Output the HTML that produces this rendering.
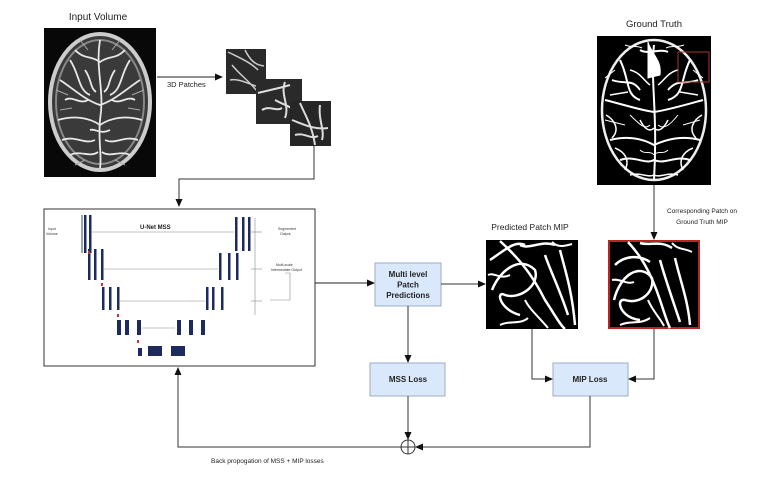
<!DOCTYPE html>
<html><head><meta charset="utf-8"><style>
html,body{margin:0;padding:0;background:#fff;}
svg{display:block;font-family:"Liberation Sans",Arial,sans-serif;}
</style></head><body>
<svg width="780" height="491" viewBox="0 0 780 491" xmlns="http://www.w3.org/2000/svg">
<defs>
<marker id="a" markerWidth="8" markerHeight="8" refX="7" refY="4" orient="auto" markerUnits="userSpaceOnUse"><path d="M0,0.5 L8,4 L0,7.5 Z" fill="#111"/></marker>
</defs>
<!-- Input Volume -->
<text x="98" y="20" font-size="10" text-anchor="middle" fill="#222">Input Volume</text>
<rect x="44" y="28" width="112" height="149" fill="#080808"/>
<ellipse cx="100" cy="102" rx="50" ry="68" fill="#3a3a3a" stroke="#ccc" stroke-width="4"/>
<ellipse cx="100" cy="102" rx="44" ry="62" fill="none" stroke="#888" stroke-width="2"/>
<g stroke="#e8e8e8" stroke-width="1.8" fill="none">
<path d="M100,40 C95,70 105,90 100,120 C98,140 102,155 100,168"/>
<path d="M60,80 C75,90 85,100 100,105 C115,100 125,90 140,80"/>
<path d="M58,120 C75,115 90,118 100,125 C110,118 125,115 142,120"/>
<path d="M70,60 C80,75 78,90 90,95"/><path d="M130,60 C120,75 122,90 110,95"/>
<path d="M62,140 C75,135 85,145 95,140"/><path d="M138,140 C125,135 115,145 105,140"/>
<path d="M75,50 C85,60 90,55 100,62 C110,55 115,60 125,50"/>
<path d="M65,100 C72,95 80,105 88,100 M135,100 C128,95 120,105 112,100 M70,155 C80,150 90,158 98,152 M130,155 C120,150 110,158 102,152"/>
<path d="M85,70 C92,80 90,88 96,92 M115,70 C108,80 110,88 104,92 M90,130 C95,128 100,135 110,130"/>
</g>
<g stroke="#aaa" stroke-width="1" fill="none">
<path d="M56,90 L68,95 M144,90 L132,95 M60,110 L72,108 M140,110 L128,108 M80,40 L88,50 M120,40 L112,50 M75,165 L85,160 M125,165 L115,160"/>
</g>
<!-- 3D patches -->
<line x1="157" y1="77" x2="222" y2="77" stroke="#222" stroke-width="1" marker-end="url(#a)"/>
<text x="167" y="87" font-size="7.5" fill="#222">3D Patches</text>
<rect x="226" y="49" width="40" height="45" fill="#2a2a2a"/>
<path d="M228,52 C240,58 250,62 258,70 M232,65 C240,75 248,80 256,90 M230,80 C240,78 250,85 262,88 M245,50 C250,60 255,65 264,66" stroke="#ccc" stroke-width="1.5" fill="none"/>
<rect x="256" y="79" width="46" height="45" fill="#2a2a2a"/>
<path d="M258,93 C270,90 280,88 290,85 M285,82 C280,95 290,105 285,118 M275,100 C282,104 295,108 300,115 M262,110 C270,105 276,112 282,108" stroke="#ddd" stroke-width="2" fill="none"/>
<rect x="290" y="101" width="41" height="45" fill="#262626"/>
<path d="M300,103 C305,115 312,125 315,145 M292,120 C305,125 315,130 328,128 M320,105 C318,120 325,130 322,140 M295,135 C305,132 310,140 318,136" stroke="#ddd" stroke-width="2" fill="none"/>
<polyline points="314,146 314,179 179,179 179,206" fill="none" stroke="#333" stroke-width="1" marker-end="url(#a)"/>
<!-- U-Net box -->
<rect x="44" y="209" width="271" height="157" fill="#fff" stroke="#333" stroke-width="1"/>
<text x="140" y="229" font-size="6" font-weight="bold" fill="#222">U-Net MSS</text>
<text x="48" y="230" font-size="3.5" fill="#333">Input</text><text x="46" y="235" font-size="3.5" fill="#333">Volume</text>
<g fill="#1c2a5e">
<rect x="81" y="215" width="2" height="38" fill="#9aa"/><rect x="84" y="215" width="2.5" height="38"/><rect x="89" y="215" width="2.5" height="38"/>
<rect x="88" y="249" width="2.5" height="31"/><rect x="94" y="249" width="2.5" height="31"/><rect x="101" y="249" width="2.5" height="31"/>
<rect x="102" y="287" width="2.5" height="23"/><rect x="109" y="287" width="2.5" height="23"/><rect x="117" y="287" width="2.5" height="23"/>
<rect x="117" y="320" width="4" height="15"/><rect x="125" y="320" width="4" height="15"/><rect x="137" y="320" width="4" height="15"/>
<rect x="138" y="348" width="4" height="8"/><rect x="148" y="346" width="14" height="10"/><rect x="171" y="346" width="14" height="10"/>
<rect x="177" y="320" width="4" height="15"/><rect x="189" y="320" width="4" height="15"/><rect x="201" y="320" width="4" height="15"/>
<rect x="206" y="287" width="2.5" height="23"/><rect x="212" y="287" width="2.5" height="23"/><rect x="221" y="287" width="2.5" height="23"/>
<rect x="219" y="253" width="2.5" height="27"/><rect x="228" y="253" width="2.5" height="27"/><rect x="236" y="253" width="2.5" height="27"/>
<rect x="235" y="217" width="2.5" height="34"/><rect x="242" y="217" width="2.5" height="34"/><rect x="248" y="217" width="2.5" height="34"/>
</g>
<g stroke="#888" stroke-width="0.6" fill="none">
<line x1="92" y1="232" x2="234" y2="232"/><line x1="104" y1="269" x2="218" y2="269"/>
<line x1="120" y1="301" x2="205" y2="301"/><line x1="142" y1="328" x2="175" y2="328"/>
<line x1="255" y1="218" x2="255" y2="315"/><line x1="251" y1="232" x2="262" y2="232"/><line x1="251" y1="269" x2="262" y2="269"/><line x1="251" y1="301" x2="262" y2="301"/>
<polyline points="285,273 290,273 290,300 270,300"/>
</g>
<g fill="#c33"><rect x="88" y="251" width="2" height="3"/><rect x="101" y="283" width="2" height="3"/><rect x="117" y="314" width="2" height="3"/><rect x="137" y="340" width="2" height="3"/></g>
<g font-size="3.5" fill="#333"><text x="278" y="230">Segmented</text><text x="280" y="235">Output</text>
<text x="276" y="266">Multi-scale</text><text x="271" y="271">Intermediate Output</text></g>
<line x1="315" y1="283" x2="374" y2="283" stroke="#222" stroke-width="1" marker-end="url(#a)"/>
<!-- Multi level -->
<rect x="375" y="263" width="66" height="43" fill="#dae8fc" stroke="#8a9bb5" stroke-width="0.8"/>
<g font-size="8" font-weight="bold" fill="#222" text-anchor="middle">
<text x="408" y="277">Multi level</text><text x="408" y="287.5">Patch</text><text x="408" y="298">Predictions</text></g>
<line x1="441" y1="284" x2="485" y2="284" stroke="#333" stroke-width="1" marker-end="url(#a)"/>
<line x1="408" y1="306" x2="408" y2="362" stroke="#333" stroke-width="1" marker-end="url(#a)"/>
<!-- MSS Loss -->
<rect x="370" y="363" width="75" height="33" fill="#dae8fc" stroke="#8a9bb5" stroke-width="0.8"/>
<text x="408" y="382" font-size="8" font-weight="bold" text-anchor="middle" fill="#222">MSS Loss</text>
<line x1="408" y1="396" x2="408" y2="439" stroke="#333" stroke-width="1" marker-end="url(#a)"/>
<!-- MIP Loss -->
<rect x="553" y="363" width="75" height="33" fill="#dae8fc" stroke="#8a9bb5" stroke-width="0.8"/>
<text x="590" y="382" font-size="8" font-weight="bold" text-anchor="middle" fill="#222">MIP Loss</text>
<!-- Predicted patch -->
<text x="530" y="230" font-size="8.5" text-anchor="middle" fill="#222">Predicted Patch MIP</text>
<rect x="486" y="240" width="92" height="89" fill="#000"/>
<g stroke="#fff" stroke-width="2.5" fill="none">
<path d="M490,260 C505,250 515,240 525,245 M500,241 C515,255 530,270 545,300 C555,315 560,325 565,329 M492,290 C500,270 520,255 535,270 C540,285 520,300 505,295 C495,290 500,310 520,315 M545,255 C550,270 560,290 568,315 M560,250 C565,270 572,290 575,325 M520,245 C530,250 540,240 555,245"/>
<path d="M488,275 C495,272 500,280 510,275 M525,300 C530,310 540,318 548,328 M500,325 C510,320 520,325 528,318 M552,242 C558,248 565,246 572,244" stroke-width="2"/>
</g>
<!-- GT patch -->
<rect x="609" y="241" width="90" height="87" fill="#000" stroke="#b22" stroke-width="2"/>
<g stroke="#fff" stroke-width="2.5" fill="none">
<path d="M615,265 C625,255 640,255 650,262 M628,242 C640,255 650,270 660,300 C665,315 668,325 670,328 M614,300 C620,275 640,262 652,278 C655,292 640,305 625,300 C615,298 620,318 640,320 M660,260 C665,278 672,298 680,322 M675,258 C680,280 688,300 690,325 M640,243 C650,246 660,240 672,248"/>
<path d="M612,280 C620,278 626,285 634,282 M648,300 C652,310 660,318 664,326 M620,325 C630,320 640,325 650,318 M672,243 C678,250 684,248 692,252" stroke-width="2"/>
</g>
<polyline points="532,329 532,379 552,379" fill="none" stroke="#333" stroke-width="1" marker-end="url(#a)"/>
<polyline points="654,329 654,379 629,379" fill="none" stroke="#333" stroke-width="1" marker-end="url(#a)"/>
<!-- Ground Truth -->
<text x="654" y="27" font-size="9.5" text-anchor="middle" fill="#222">Ground Truth</text>
<rect x="597" y="36" width="114" height="149" fill="#000"/>
<ellipse cx="654" cy="110" rx="52" ry="70" fill="none" stroke="#eee" stroke-width="2.5"/>
<g stroke="#fff" stroke-width="2" fill="none">
<path d="M654,45 C650,80 658,110 654,180 M605,100 C625,105 640,110 654,112 C668,110 685,105 703,100 M610,140 C630,135 645,140 654,145 C665,140 680,135 700,140 M620,60 C630,80 625,95 640,100 M690,60 C680,80 685,95 668,100 M612,80 C625,85 632,78 640,90 M698,80 C685,85 678,78 668,90 M620,160 C635,155 645,165 654,160 C665,165 675,155 690,160 M640,50 C648,55 660,48 668,52"/>
<path d="M648,42 C652,55 662,60 660,75 L648,78 Z" fill="#fff" stroke-width="1"/>
<path d="M606,115 C615,120 620,130 612,138 M702,115 C693,120 688,130 696,138 M615,148 C625,152 630,160 625,170 M693,148 C683,152 678,160 683,170 M640,120 C645,130 650,132 654,128 M668,120 C663,130 658,132 654,128 M630,70 C640,72 645,82 650,85 M678,70 C668,72 663,82 658,85 M610,95 L628,92 M698,95 L680,92 M630,175 C640,172 648,178 654,175 C660,178 668,172 678,175" stroke-width="1.5"/>
<path d="M605,120 L625,125 M700,120 L683,125 M630,115 C640,125 645,130 650,125 M678,115 C670,125 664,130 658,125 M615,70 L605,78 M693,70 L703,78 M625,45 C632,48 636,45 642,48 M684,45 C676,48 672,45 666,48 M640,150 C645,155 650,150 654,155 M668,150 C663,155 658,150 654,155" stroke-width="1"/>
</g>
<rect x="678" y="52" width="31" height="30" fill="none" stroke="#a33" stroke-width="1"/>
<line x1="654" y1="185" x2="654" y2="239" stroke="#333" stroke-width="1" marker-end="url(#a)"/>
<g font-size="6.5" text-anchor="middle" fill="#222"><text x="702" y="213">Corresponding Patch on</text><text x="702" y="224">Ground Truth MIP</text></g>
<!-- sum + back -->
<polyline points="590,396 590,447 416,447" fill="none" stroke="#333" stroke-width="1" marker-end="url(#a)"/>
<circle cx="408" cy="447" r="7" fill="#fff" stroke="#333" stroke-width="1"/>
<line x1="401" y1="447" x2="415" y2="447" stroke="#333" stroke-width="1"/><line x1="408" y1="440" x2="408" y2="454" stroke="#333" stroke-width="1"/>
<polyline points="401,447 178,447 178,368" fill="none" stroke="#333" stroke-width="1" marker-end="url(#a)"/>
<text x="211" y="463" font-size="6.5" fill="#222">Back propogation of MSS + MIP losses</text>
</svg>
</body></html>
